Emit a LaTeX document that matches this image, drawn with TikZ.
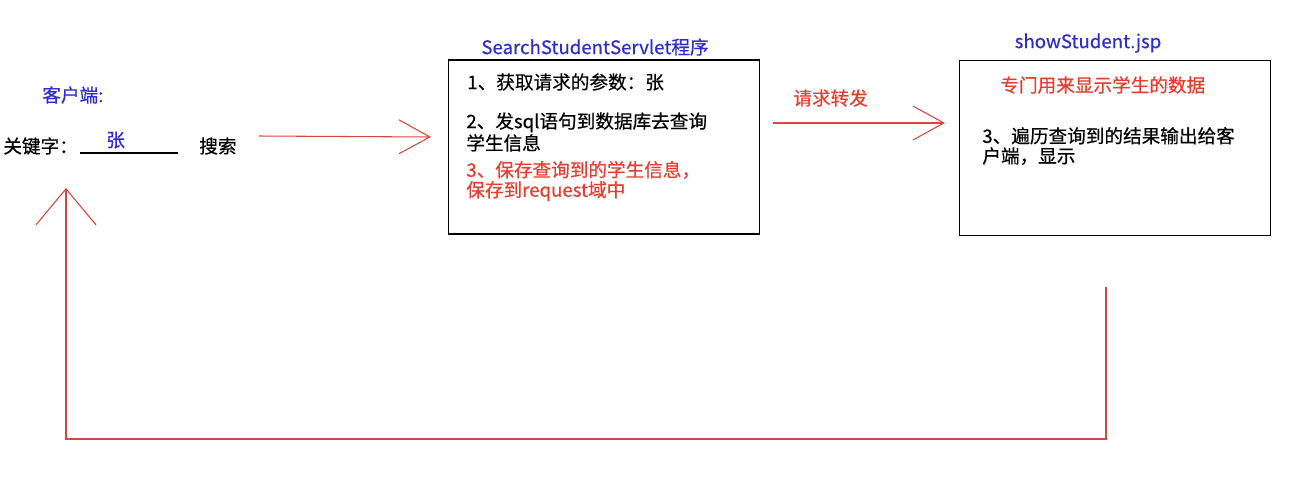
\documentclass[tikz,border=0pt]{standalone}
\usepackage{fontspec}
\setmainfont{Noto Sans CJK SC}[FakeBold=0.5]
\usetikzlibrary{arrows.meta,positioning}
\definecolor{penred}{RGB}{214,70,60}
\definecolor{inkblue}{RGB}{45,45,205}
\definecolor{inkred}{RGB}{232,60,45}

\begin{document}
\begin{tikzpicture}[
  x=0.02cm, y=-0.02cm,
  every node/.style={font=\fontsize{10.6}{11.4}\selectfont, inner sep=0pt},
  panel/.style={draw, line width=0.8pt, minimum width=6.22cm, minimum height=3.48cm},
  txt/.style={anchor=west, align=left},
  title/.style={txt, text=inkblue},
  note/.style={txt, text=inkred},
  arrow/.style={draw=penred, line width=0.6pt,
                -{Straight Barb[length=6.2mm, width=6.8mm, line width=0.6pt]}},
  backarrow/.style={arrow, -{Straight Barb[length=7.2mm, width=12mm, line width=0.6pt]}}
]
\useasboundingbox (0,0) rectangle (1294,484);

% client side
\node[title] (client) at (42,95) {客户端:};
\node[txt] (keyword) at (3,146) {关键字：};
\node[title] (value) at (106,140) {张};
\node[txt] (search) at (199,146) {搜索};
\draw[line width=0.6pt] (80,153) -- (178,153);

% servlet
\node[panel] (servlet) at (604,147) {};
\node[title, anchor=center] (servlettitle) at (595,47) {SearchStudentServlet程序};
\node[txt] (step1) at (467,82) {1、获取请求的参数：张};
\node[txt] (step2) at (466,132) {2、发sql语句到数据库去查询\\学生信息};
\node[note] (step3) at (466,181) {3、保存查询到的学生信息，\\保存到request域中};

% jsp page
\node[panel, minimum height=3.5cm] (jsp) at (1115,148) {};
\node[title, anchor=center] (jsptitle) at (1088,43) {showStudent.jsp};
\node[note] (jspnote) at (1000,85) {专门用来显示学生的数据};
\node[txt] (step4) at (982,146) {3、遍历查询到的结果输出给客\\户端，显示};

% connectors
\coordinate (sendout) at (259,136);
\coordinate (sendin) at (431,137);
\coordinate (fwdout) at (773,123);
\coordinate (fwdin) at (945,123);
\coordinate (backstart) at (1106,287);
\coordinate (backcorner) at (66,439);
\coordinate (backend) at (66,188);

\draw[arrow] (sendout) -- (sendin);
\draw[arrow] (fwdout) -- (fwdin);
\node[note] (fwdlabel) at (793,98) {请求转发};
\draw[backarrow] (backstart) |- (backcorner) -- (backend);
\end{tikzpicture}
\end{document}
